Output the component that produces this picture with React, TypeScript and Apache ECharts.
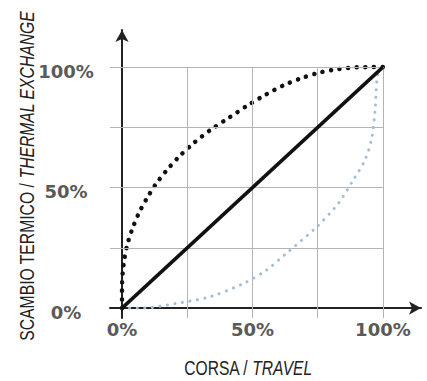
import React, { useEffect, useRef } from "react";
import * as echarts from "echarts";

// Axis ticks / grid values (percent)
const gridValues = [25, 50, 75, 100];
const labelValues = [0, 50, 100];

// Axis titles
const xTitle = ["CORSA / ", "TRAVEL"];
const yTitle = ["SCAMBIO TERMICO / ", "THERMAL EXCHANGE"];

// Linear characteristic
const linear: number[][] = [
  [0, 0],
  [100, 100],
];

// Quick-opening characteristic (black dotted)
const quickOpening: number[][] = [
  [0, 0], [0, 8], [0.3, 15], [1, 21], [2.2, 27], [4, 33], [6.5, 39.5],
  [9.5, 45.5], [13, 51.5], [17, 57], [22, 63], [27.5, 68.5], [34, 74],
  [41, 79], [48, 84], [55, 88.5], [62, 92.5], [69, 95.5], [76, 97.8],
  [83, 99.2], [90, 99.9], [95, 100], [100, 100],
];

// Equal-percentage characteristic (light blue dotted)
const equalPercentage: number[][] = [
  [0, 0], [8, 0], [21, 2], [33.7, 4.7], [46.5, 10.2], [55.4, 15.8],
  [63, 22.7], [74.6, 33.7], [82.9, 43.4], [88.6, 53.1], [93.1, 61.4],
  [95.7, 70.4], [97, 82], [98, 96.7], [100, 100],
];

const xMin = -4.6;
const yMin = -4.1;

export default function App() {
  const ref = useRef<HTMLDivElement>(null);

  useEffect(() => {
    if (!ref.current) return;
    const chart = echarts.init(ref.current, undefined, { renderer: "svg" });

    const gridLines: any[] = [];
    gridValues.forEach((v) => {
      gridLines.push([{ coord: [xMin, v] }, { coord: [100, v] }]);
      gridLines.push([{ coord: [v, yMin] }, { coord: [v, 100] }]);
    });

    const labelFont = {
      fontFamily: "DejaVu Sans",
      fontWeight: "bold" as const,
      fontSize: 18,
      color: "#5a5a5a",
    };
    const titleRich = {
      n: { fontFamily: "Liberation Sans", fontSize: 20, fill: "#222" },
      i: { fontFamily: "Liberation Sans", fontSize: 20, fill: "#222", fontStyle: "italic" as const },
    };

    chart.setOption({
      animation: false,
      grid: { left: 110, right: 6, top: 30, bottom: 63, outerBoundsMode: "none", containLabel: false },
      graphic: [
        {
          type: "text",
          x: 248,
          y: 368,
          scaleX: 0.78,
          silent: true,
          style: {
            text: `{n|${xTitle[0]}}{i|${xTitle[1]}}`,
            rich: titleRich,
            align: "center",
            verticalAlign: "middle",
          },
        },
        {
          type: "text",
          x: 27,
          y: 176,
          rotation: Math.PI / 2,
          scaleX: 0.785,
          silent: true,
          style: {
            text: `{n|${yTitle[0]}}{i|${yTitle[1]}}`,
            rich: titleRich,
            align: "center",
            verticalAlign: "middle",
          },
        },
      ],
      xAxis: {
        type: "value",
        min: xMin,
        max: 114.6,
        axisLine: {
          show: true,
          onZero: true,
          lineStyle: { color: "#222", width: 2 },
          symbol: ["none", "arrow"],
          symbolSize: [10, 12],
        },
        axisTick: { show: false },
        splitLine: { show: false },
        axisLabel: {
          customValues: labelValues,
          formatter: "{value}%",
          margin: 2,
          ...labelFont,
        },
      },
      yAxis: {
        type: "value",
        min: yMin,
        max: 115.4,
        axisLine: {
          show: true,
          onZero: true,
          lineStyle: { color: "#222", width: 2 },
          symbol: ["none", "arrow"],
          symbolSize: [10, 12],
        },
        axisTick: { show: false },
        splitLine: { show: false },
        axisLabel: {
          customValues: labelValues,
          formatter: (v: number) => `{c|${v}%}`,
          margin: 15,
          padding: [8, 0, 0, 0],
          rich: {
            c: { ...labelFont, width: 58, align: "center" },
          },
          ...labelFont,
        },
      },
      series: [
        {
          type: "line",
          data: [],
          z: 1,
          silent: true,
          markLine: {
            silent: true,
            symbol: ["none", "none"],
            label: { show: false },
            lineStyle: { color: "#b4b4b4", width: 1, type: "solid" },
            emphasis: { disabled: true },
            data: gridLines,
          },
        },
        {
          type: "line",
          data: equalPercentage,
          showSymbol: false,
          smooth: 0.3,
          z: 3,
          lineStyle: { color: "#a3bdd8", width: 3, type: [0.1, 7.5], cap: "round" },
        },
        {
          type: "line",
          data: quickOpening,
          showSymbol: false,
          smooth: 0.3,
          z: 4,
          lineStyle: { color: "#111", width: 4.5, type: [0.1, 8.5], cap: "round" },
        },
        {
          type: "line",
          data: linear,
          showSymbol: false,
          z: 5,
          lineStyle: { color: "#111", width: 3.5 },
        },
      ],
    });

    return () => chart.dispose();
  }, []);

  return (
    <div
      ref={ref}
      style={{ position: "absolute", left: 0, top: 0, width: 427, height: 381 }}
    />
  );
}
